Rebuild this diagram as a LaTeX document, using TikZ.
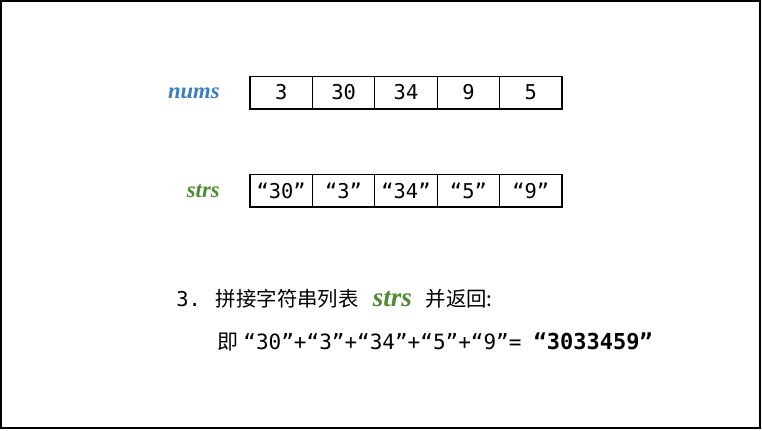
\documentclass[tikz,border=0pt]{standalone}
\usepackage{fontspec}
\setmonofont{DejaVu Sans Mono}
\newfontfamily\cjkfont{Noto Sans CJK SC}
\newfontfamily\labfont{Liberation Serif}
\definecolor{numsblue}{HTML}{3A7CC0}
\definecolor{strsgreen}{HTML}{4E8A34}
\tikzset{
  cell/.style={draw, line width=0.6pt, minimum width=31.2pt, minimum height=16.4pt,
    inner sep=0pt, font=\ttfamily\fontsize{10.2}{12}\selectfont},
  arrname/.style={anchor=east, inner sep=0pt, font=\labfont\bfseries\itshape\fontsize{11.3}{13}\selectfont}
}
\begin{document}
\begin{tikzpicture}[x=0.5pt, y=-0.5pt]

  % Page frame
  \useasboundingbox (0,0) rectangle (762,430);
  \draw[line width=1pt] (1,1) rectangle (760,428);

  % Array labels (left side)
  \node[arrname, text=numsblue] (nums) at (220,93) {nums};
  \node[arrname, text=strsgreen] (strs) at (220,191) {strs};

  % Input array
  \node[cell] (n1) at (281.2,92.5) {3};
  \node[cell] (n2) at (343.6,92.5) {30};
  \node[cell] (n3) at (406.0,92.5) {34};
  \node[cell] (n4) at (468.4,92.5) {9};
  \node[cell] (n5) at (530.8,92.5) {5};

  % Sorted string array
  \node[cell] (s1) at (281.2,190.5) {“30”};
  \node[cell] (s2) at (343.6,190.5) {“3”};
  \node[cell] (s3) at (406.0,190.5) {“34”};
  \node[cell] (s4) at (468.4,190.5) {“5”};
  \node[cell] (s5) at (530.8,190.5) {“9”};

  % Step text
  \node[anchor=base west, inner sep=0pt, font=\fontsize{10.2}{12}\selectfont] (step3) at (176,306)
    {{\ttfamily 3.}\hspace{7.5pt}{\cjkfont 拼接字符串列表}\hspace{7pt}{\labfont\bfseries\itshape\color{strsgreen}\fontsize{13.5}{15}\selectfont strs}\hspace{7pt}{\cjkfont 并返回:}};
  \node[anchor=base west, inner sep=0pt, font=\fontsize{10.5}{12}\selectfont] (joined) at (217,349)
    {{\cjkfont 即}\hspace{2.5pt}{\ttfamily “30”+“3”+“34”+“5”+“9”=}\hspace{6pt}{\ttfamily\bfseries\fontsize{11}{13}\selectfont “3033459”}};

\end{tikzpicture}
\end{document}
